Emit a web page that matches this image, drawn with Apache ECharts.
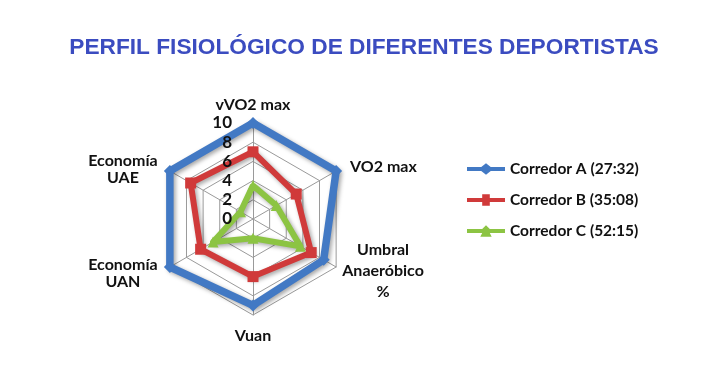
<!DOCTYPE html>
<html><head><meta charset="utf-8">
<script src="https://cdn.jsdelivr.net/npm/echarts@6/dist/echarts.min.js"></script>
<style>html,body{margin:0;padding:0;background:#fff}#c{width:728px;height:366px}</style>
</head><body><div id="c"></div>
<script>
// categories in clockwise order starting at the top
const categories = ['vVO2 max', 'VO2 max', 'Umbral\nAnaeróbico\n%', 'Vuan', 'Economía\nUAN', 'Economía\nUAE'];
const seriesNames = ['Corredor A (27:32)', 'Corredor B (35:08)', 'Corredor C (52:15)'];
const corredorA = [10, 10, 8.5, 9, 10, 10];
const corredorB = [7, 5.2, 7, 6, 6.3, 7.5];
const corredorC = [3.5, 2.8, 5.7, 2, 4.8, 1.5];
const axisMax = 10;
const axisSplit = 5;

const FONT = 'Lato';
const colors = ['#4279C4', '#D03A3A', '#8CC443'];
const symbols = ['diamond', 'rect', 'triangle'];
const icons = [
  'path://M0,4H15L20,0L25,4H40V8H25L20,12L15,8H0Z',
  'path://M0,4H16V0H24V4H40V8H24V12H16V8H0Z',
  'path://M0,4H16L20,0L24,4H40V8H24L26,12H14L16,8H0Z'
];
const values = [corredorA, corredorB, corredorC];
// ECharts radar runs counter-clockwise; reorder so the axes go clockwise
const order = [0, 5, 4, 3, 2, 1];
const ccw = arr => order.map(i => arr[i]);

const nameStyle = { color: '#111', fontFamily: FONT, fontWeight: 'bold', fontSize: 16, lineHeight: 21 };
const CENTER = [253, 219], RADIUS = 96;

function nameFormatter(name) {
  const lines = name.split('\n');
  if (lines.length === 1) {
    if (name === 'VO2 max') return '{r|' + name + '}';
    if (name === 'Vuan') return '{d|' + name + '}';
    return name;
  }
  const shiftFirst = name.indexOf('Economía') === 0;
  return lines.map((s, k) => '{' + (k === 0 && shiftFirst ? 'f' : 'c') + '|' + s + '}').join('\n');
}

const chart = echarts.init(document.getElementById('c'));
chart.setOption({
  backgroundColor: '#fff',
  animation: false,
  title: {
    text: 'PERFIL FISIOLÓGICO DE DIFERENTES DEPORTISTAS',
    left: 'center', top: 31,
    textStyle: { fontFamily: 'Liberation Sans', fontWeight: 'bold', fontSize: 22.7, color: '#3B4CC0' }
  },
  legend: {
    orient: 'vertical', left: 462, top: 156, itemGap: 15,
    itemWidth: 38, itemHeight: 12,
    textStyle: { fontFamily: FONT, fontWeight: 'bold', fontSize: 15.5, color: '#111' },
    data: seriesNames.map((n, i) => ({ name: n, icon: icons[i], itemStyle: { color: colors[i] } }))
  },
  radar: [{
    center: CENTER, radius: RADIUS, z: 1,
    startAngle: 90, splitNumber: axisSplit, shape: 'polygon',
    axisName: Object.assign({}, nameStyle, {
      formatter: nameFormatter,
      rich: {
        c: Object.assign({}, nameStyle, { width: 80, align: 'center' }),
        f: Object.assign({}, nameStyle, { width: 80, align: 'center', padding: [8, 0, 0, 0] }),
        r: Object.assign({}, nameStyle, { padding: [0, 0, 0, 7] }),
        d: Object.assign({}, nameStyle, { padding: [4, 0, 0, 0] })
      }
    }),
    nameGap: 8,
    splitLine: { lineStyle: { color: '#9a9a9a', width: 1 } },
    splitArea: { show: false },
    axisLine: { lineStyle: { color: '#9a9a9a', width: 1 } },
    axisLabel: { show: false },
    indicator: ccw(categories).map(c => ({ name: c, min: 0, max: axisMax }))
  }, {
    center: CENTER, radius: RADIUS, z: 5,
    startAngle: 90, splitNumber: axisSplit, shape: 'polygon',
    axisName: { show: false },
    splitLine: { show: false }, splitArea: { show: false }, axisLine: { show: false },
    axisLabel: { show: false },
    indicator: ccw(categories).map((c, i) => i === 0
      ? { name: '', min: 0, max: axisMax, axisLabel: { show: true, color: '#111', fontFamily: FONT, fontWeight: 'bold', fontSize: 17, margin: 21 } }
      : { name: '', min: 0, max: axisMax })
  }],
  series: [{
    type: 'radar', radarIndex: 0, z: 2,
    data: values.map((v, i) => ({
      name: seriesNames[i], value: ccw(v),
      symbol: symbols[i], symbolSize: i === 0 ? 12 : 11,
      lineStyle: { color: colors[i], width: i === 0 ? 7.5 : 6, shadowColor: 'rgba(0,0,0,0.35)', shadowBlur: 4, shadowOffsetX: 2, shadowOffsetY: 2 },
      itemStyle: { color: colors[i] }
    }))
  }]
});
</script>
</body></html>
